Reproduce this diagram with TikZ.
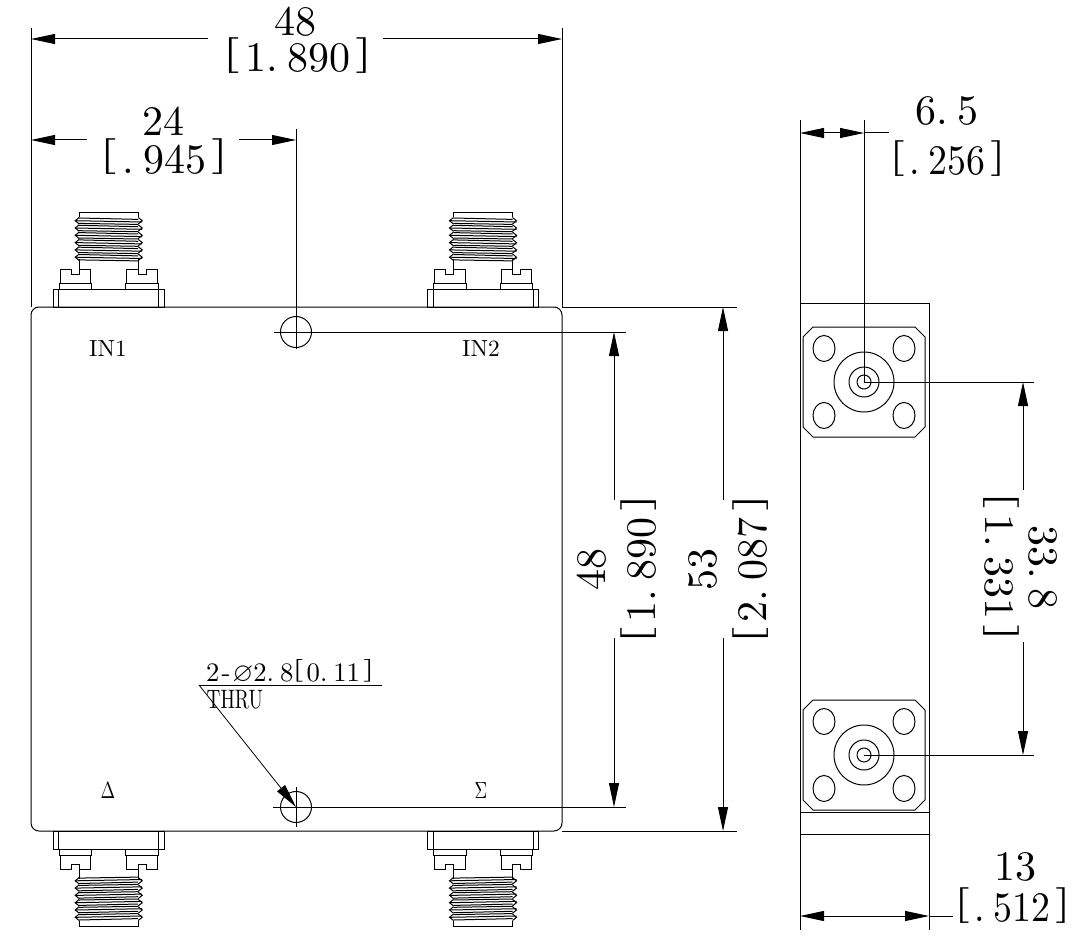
\documentclass[tikz,border=0pt]{standalone}
\usepackage{graphicx}
\usepackage{amssymb}
\usetikzlibrary{arrows.meta}
\newcommand{\dpt}{\makebox[.5em][l]{.}}
\newcommand{\lbr}{\makebox[.5em][l]{\hspace*{-.07em}\raisebox{.17em}{\scalebox{1.6}[.85]{[}}}}
\newcommand{\rbr}{\makebox[.5em][r]{\raisebox{.17em}{\scalebox{1.6}[.85]{]}}\hspace*{-.07em}}}
\tikzset{
  dimtext/.style={inner sep=0pt, scale=3.15, anchor=base},
  smalltext/.style={inner sep=0pt, scale=1.75, anchor=base},
  notetext/.style={inner sep=0pt, scale=2, anchor=base west},
  connector/.pic={
    \draw (-29.5,-90) -- (-29.5,-95) -- (29.5,-95) -- (29.5,-90);
    \foreach \i in {0,...,5} {
      \draw (-29.5,-89.5+7.3*\i) -- (-33.5,-86.3+7.3*\i) -- (-29.5,-83+7.3*\i)
        (29.5,-89.5+7.3*\i) -- (33.5,-86.3+7.3*\i) -- (29.5,-83+7.3*\i);
      \draw (-33.5,-86.3+7.3*\i) -- (33.5,-85+7.3*\i)
        (-29.5,-89+7.3*\i) -- (29.5,-87.6+7.3*\i)
        (-29.5,-83.6+7.3*\i) -- (29.5,-82.6+7.3*\i);
    }
    \foreach \s in {-1,1} {
      \draw (\s*29.5,-48) -- (\s*29.5,-33) -- (\s*37.5,-33) -- (\s*37.5,-38)
        -- (\s*48.5,-38) -- (\s*48.5,-24);
      \draw (\s*29.5,-38) -- (\s*18,-38) -- (\s*18,-24);
      \draw (\s*49.5,-18) -- (\s*49.5,-24) -- (\s*17,-24) -- (\s*17,-18);
      \draw (\s*50,0) -- (\s*50,-18);
    }
    \draw (-55.5,0) rectangle (55.5,-18);
  },
  flange/.pic={
    \draw (-51,-55) -- (51,-55) -- (61,-45) -- (61,45) -- (51,55) -- (-51,55)
      -- (-61,45) -- (-61,-45) -- cycle;
    \foreach \a/\b in {-40/-33.5,40/-33.5,-40/33.5,40/33.5}
      \draw (\a,\b) ellipse (11 and 13);
    \foreach \r in {30,15,7}
      \draw (0,0) circle (\r);
  }
}
\begin{document}
\begin{tikzpicture}[x=.75pt, y=-.75pt, line width=.75pt,
    >={Triangle[length=18pt,width=7.5pt]}]
  \useasboundingbox (0,0) rectangle (1077,938);

  \draw[rounded corners=6pt] (31,307) rectangle (562,831);
  \pic at (108.7,307) {connector};
  \pic at (483,307) {connector};
  \pic[yscale=-1] at (108.7,831) {connector};
  \pic[yscale=-1] at (483,831) {connector};

  \node[smalltext] (in1) at (108,356.7) {IN1};
  \node[smalltext] (in2) at (481,356.7) {IN2};
  \node[smalltext,xscale=.75] (delta) at (108,798) {$\Delta$};
  \node[smalltext,xscale=.75] (sigma) at (481,798) {$\Sigma$};

  \coordinate (holeT) at (296,332);
  \coordinate (holeB) at (296,807);
  \draw (holeT) circle (15.5);
  \draw (holeB) circle (15.5);

  % top dimensions
  \coordinate (bodyTL) at (31,307);
  \coordinate (bodyTR) at (562,307);
  \coordinate (bodyBR) at (562,831);
  \coordinate (topL) at (31,28);
  \coordinate (topR) at (562,28);
  \draw (topL) -- (bodyTL);
  \draw (topR) -- (bodyTR);
  \node[dimtext] (w48) at (295.6,35.5) {48};
  \node[dimtext] (w48in) at (297.5,72) {\lbr 1\dpt 890\rbr};
  \coordinate (w48L) at (31,39);
  \coordinate (w48La) at (208,39);
  \coordinate (w48R) at (562,39);
  \coordinate (w48Ra) at (383,39);
  \draw[<-] (w48L) -- (w48La);
  \draw[<-] (w48R) -- (w48Ra);

  \coordinate (c24top) at (296,129);
  \coordinate (holeTend) at (296,349);
  \draw (c24top) -- (holeTend);
  \node[dimtext] (w24) at (163,135.5) {24};
  \node[dimtext] (w24in) at (164,173) {\lbr\dpt 945\rbr};
  \coordinate (w24L) at (31,140);
  \coordinate (w24La) at (87,140);
  \coordinate (w24R) at (296,140);
  \coordinate (w24Ra) at (239,140);
  \draw[<-] (w24L) -- (w24La);
  \draw[<-] (w24R) -- (w24Ra);

  % right dimensions
  \coordinate (holeTs) at (274,332);
  \coordinate (holeTe) at (626,332);
  \coordinate (holeBs) at (273,807);
  \coordinate (holeBe) at (626,807);
  \coordinate (holeBu) at (296,787);
  \coordinate (holeBd) at (296,827);
  \draw (holeTs) -- (holeTe);
  \draw (holeBs) -- (holeBe);
  \draw (holeBu) -- (holeBd);
  \node[dimtext,rotate=90] (h48) at (605,569.5) {48};
  \node[dimtext,rotate=90] (h48in) at (655,569.5) {\lbr 1\dpt 890\rbr};
  \coordinate (h48T) at (614,332);
  \coordinate (h48Ta) at (614,500);
  \coordinate (h48B) at (614,807);
  \coordinate (h48Ba) at (614,638);
  \draw[<-] (h48T) -- (h48Ta);
  \draw[<-] (h48B) -- (h48Ba);

  \coordinate (ext53T) at (737,307);
  \coordinate (ext53B) at (737,831);
  \draw (bodyTR) -- (ext53T);
  \draw (bodyBR) -- (ext53B);
  \node[dimtext,rotate=90] (h53) at (716.7,569.5) {53};
  \node[dimtext,rotate=90] (h53in) at (766.7,569.5) {\lbr 2\dpt 087\rbr};
  \coordinate (h53T) at (723,307);
  \coordinate (h53Ta) at (723,500);
  \coordinate (h53B) at (723,831);
  \coordinate (h53Ba) at (723,638);
  \draw[<-] (h53T) -- (h53Ta);
  \draw[<-] (h53B) -- (h53Ba);

  % hole note
  \coordinate (noteL) at (199,685);
  \coordinate (noteR) at (382,685);
  \draw (noteL) -- (noteR);
  \draw[->, line width=.6pt] (noteL) -- (holeB);
  \node[notetext] (note) at (205,681.5) {2\makebox[.5em]{-}$\varnothing$2\dpt 8\lbr 0\dpt 11\rbr};
  \node[notetext,xscale=.72] (thru) at (206,708) {THRU};

  % side view
  \draw (800,303) rectangle (929,834);
  \coordinate (sideL) at (800,120);
  \coordinate (sideLb) at (800,930);
  \coordinate (sideR) at (929,303);
  \coordinate (sideRb) at (929,930);
  \coordinate (sideC) at (864,120);
  \coordinate (portT) at (864,382);
  \coordinate (portB) at (864,755);
  \coordinate (sideFl) at (800,812);
  \coordinate (sideFr) at (929,812);
  \draw (sideL) -- (sideLb);
  \draw (sideR) -- (sideRb);
  \draw (sideC) -- (portT);
  \draw (sideFl) -- (sideFr);
  \pic at (portT) {flange};
  \pic at (portB) {flange};

  \node[dimtext] (s65) at (947,125) {6\dpt 5};
  \node[dimtext,xscale=.9] (s65in) at (947.5,175) {\lbr\dpt 256\rbr};
  \coordinate (s65L) at (800,133);
  \coordinate (s65R) at (864,133);
  \coordinate (s65E) at (889,133);
  \draw[<->] (s65L) -- (s65R);
  \draw (s65R) -- (s65E);

  \node[dimtext] (s13) at (1015.5,880) {13};
  \node[dimtext,xscale=.9] (s13in) at (1012.5,921.7) {\lbr\dpt 512\rbr};
  \coordinate (s13L) at (800,916);
  \coordinate (s13R) at (929,916);
  \coordinate (s13E) at (953,916);
  \draw[<->] (s13L) -- (s13R);
  \draw (s13R) -- (s13E);

  \coordinate (ext34T) at (1034,382);
  \coordinate (ext34B) at (1034,755);
  \draw (portT) -- (ext34T);
  \draw (portB) -- (ext34B);
  \node[dimtext,rotate=-90] (s34) at (1029,567) {33\dpt 8};
  \node[dimtext,rotate=-90] (s34in) at (985,567) {\lbr 1\dpt 331\rbr};
  \coordinate (s34T) at (1023,382);
  \coordinate (s34Ta) at (1023,490);
  \coordinate (s34B) at (1023,755);
  \coordinate (s34Ba) at (1023,642);
  \draw[<-] (s34T) -- (s34Ta);
  \draw[<-] (s34B) -- (s34Ba);
\end{tikzpicture}
\end{document}
